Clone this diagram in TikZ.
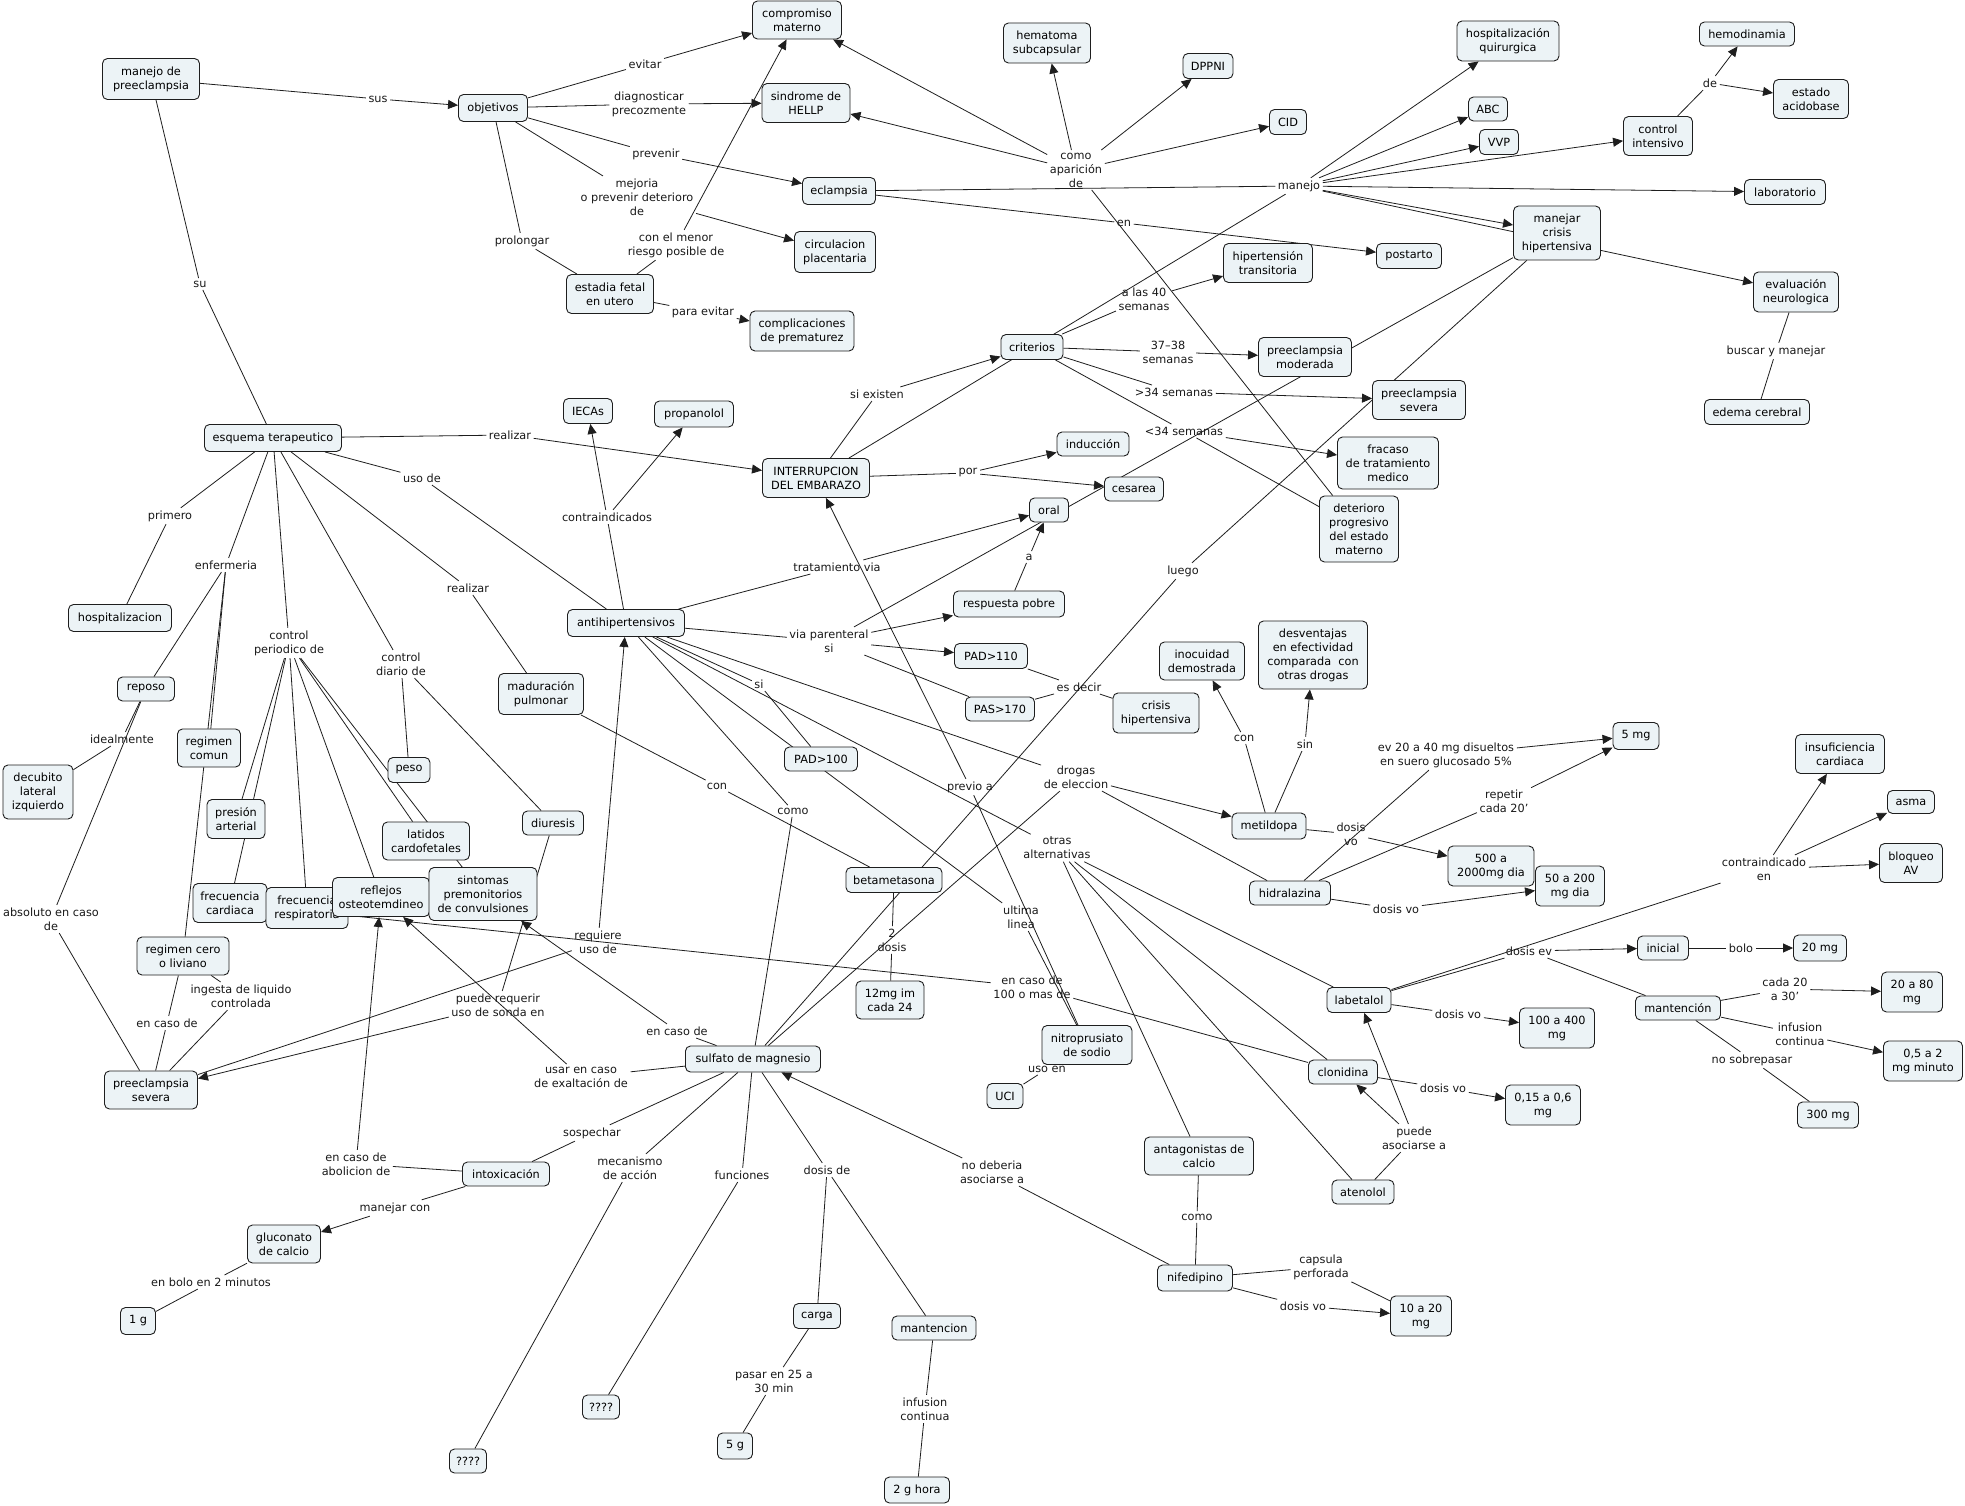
\documentclass[tikz,border=0pt]{standalone}
\usepackage{fontspec}
\setmainfont{DejaVu Sans}
\usetikzlibrary{arrows.meta}
\definecolor{boxfill}{RGB}{236,243,246}
\definecolor{ln}{RGB}{30,30,30}
\pgfdeclarelayer{bg}
\pgfsetlayers{bg,main}
\tikzset{
 c/.style 2 args={draw=ln, fill=boxfill, rounded corners=5pt, line width=0.9pt, minimum width=#1pt, minimum height=#2pt, inner xsep=3pt, inner ysep=2pt, align=center, font=\fontsize{11.3}{14}\selectfont},
 lk/.style={inner sep=2.5pt, align=center, font=\fontsize{11.3}{14}\selectfont, text=black!90},
 e/.style={draw=ln, line width=0.8pt},
 ea/.style={e, -{Triangle[length=10pt,width=9pt]}},
}
\begin{document}
\begin{tikzpicture}[x=1pt,y=-1pt]
\useasboundingbox (0,0) rectangle (1965,1506);
% ---------- concepts ----------
\node[c={97}{41}] (mp) at (151,79) {manejo de\\preeclampsia};
\node[c={69}{27}] (obj) at (493,108) {objetivos};
\node[c={89}{38}] (cm) at (797,20) {compromiso\\materno};
\node[c={88}{39}] (hellp) at (806,103) {sindrome de\\HELLP};
\node[c={73}{27}] (ecl) at (839,191) {eclampsia};
\node[c={81}{41}] (circ) at (835,252) {circulacion\\placentaria};
\node[c={87}{39}] (est) at (610,294) {estadia fetal\\en utero};
\node[c={104}{40}] (comp) at (802,331) {complicaciones\\de prematurez};
\node[c={49}{25}] (iecas) at (588,411) {IECAs};
\node[c={79}{26}] (prop) at (694,414) {propanolol};
\node[c={107}{39}] (int) at (816,478) {INTERRUPCION\\DEL EMBARAZO};
\node[c={87}{40}] (hem) at (1047,43) {hematoma\\subcapsular};
\node[c={50}{25}] (dppni) at (1208,66) {DPPNI};
\node[c={37}{25}] (cid) at (1288,122) {CID};
\node[c={89}{39}] (hiper) at (1268,263) {hipertensión\\transitoria};
\node[c={65}{25}] (post) at (1409,256) {postarto};
\node[c={62}{25}] (crit) at (1032,347) {criterios};
\node[c={93}{39}] (pmod) at (1305,357) {preeclampsia\\moderada};
\node[c={93}{39}] (psevR) at (1419,400) {preeclampsia\\severa};
\node[c={72}{24}] (ind) at (1093,444) {inducción};
\node[c={59}{24}] (ces) at (1134,489) {cesarea};
\node[c={101}{52}] (frac) at (1388,463) {fracaso\\de tratamiento\\medico};
\node[c={79}{66}] (det) at (1359,529) {deterioro\\progresivo\\del estado\\materno};
\node[c={39}{24}] (oral) at (1049,510) {oral};
\node[c={102}{40}] (hq) at (1508,41) {hospitalización\\quirurgica};
\node[c={39}{24}] (abc) at (1488,109) {ABC};
\node[c={39}{25}] (vvp) at (1499,142) {VVP};
\node[c={69}{39}] (ci) at (1658,136) {control\\intensivo};
\node[c={95}{24}] (hemo) at (1747,34) {hemodinamia};
\node[c={75}{39}] (acido) at (1811,99) {estado\\acidobase};
\node[c={81}{25}] (lab) at (1785,192) {laboratorio};
\node[c={87}{54}] (mch) at (1557,233) {manejar\\crisis\\hipertensiva};
\node[c={85}{40}] (evn) at (1796,292) {evaluación\\neurologica};
\node[c={105}{25}] (edema) at (1757,412) {edema cerebral};
\node[c={137}{27}] (esq) at (273,438) {esquema terapeutico};
\node[c={103}{27}] (hosp) at (120,618) {hospitalizacion};
\node[c={57}{24}] (rep) at (146,689) {reposo};
\node[c={63}{38}] (rcom) at (209,748) {regimen\\comun};
\node[c={70}{54}] (dec) at (38,792) {decubito\\lateral\\izquierdo};
\node[c={42}{25}] (peso) at (409,770) {peso};
\node[c={58}{39}] (pres) at (236,819) {presión\\arterial};
\node[c={87}{38}] (lat) at (426,841) {latidos\\cardofetales};
\node[c={74}{39}] (fc) at (230,903) {frecuencia\\cardiaca};
\node[c={82}{41}] (fr) at (307,908) {frecuencia\\respiratoria};
\node[c={97}{39}] (refl) at (381,897) {reflejos\\osteotemdineo};
\node[c={108}{53}] (sint) at (483,894) {sintomas\\premonitorios\\de convulsiones};
\node[c={92}{38}] (rcero) at (183,956) {regimen cero\\o liviano};
\node[c={61}{24}] (diu) at (553,823) {diuresis};
\node[c={85}{41}] (mad) at (541,694) {maduración\\pulmonar};
\node[c={93}{38}] (psevL) at (151,1090) {preeclampsia\\severa};
\node[c={87}{24}] (intox) at (506,1174) {intoxicación};
\node[c={73}{38}] (gluc) at (284,1244) {gluconato\\de calcio};
\node[c={35}{27}] (oneg) at (138,1321) {1 g};
\node[c={37}{24}] (qa) at (468,1461) {????};
\node[c={135}{26}] (sulf) at (753,1059) {sulfato de magnesio};
\node[c={37}{24}] (qb) at (601,1407) {????};
\node[c={47}{25}] (carga) at (817,1316) {carga};
\node[c={84}{24}] (mant) at (934,1328) {mantencion};
\node[c={35}{26}] (cinco) at (735,1446) {5 g};
\node[c={65}{26}] (dosg) at (917,1490) {2 g hora};
\node[c={117}{27}] (anti) at (626,623) {antihipertensivos};
\node[c={111}{26}] (resp) at (1009,604) {respuesta pobre};
\node[c={73}{25}] (padA) at (991,656) {PAD>110};
\node[c={69}{24}] (pas) at (1000,709) {PAS>170};
\node[c={73}{24}] (padB) at (821,759) {PAD>100};
\node[c={96}{25}] (beta) at (894,880) {betametasona};
\node[c={68}{38}] (doce) at (890,1000) {12mg im\\cada 24};
\node[c={85}{38}] (inoc) at (1202,661) {inocuidad\\demostrada};
\node[c={109}{68}] (desv) at (1313,655) {desventajas\\en efectividad\\comparada\ \ con\\otras drogas};
\node[c={86}{40}] (crisis) at (1156,713) {crisis\\hipertensiva};
\node[c={74}{26}] (metil) at (1269,826) {metildopa};
\node[c={86}{40}] (quin) at (1491,866) {500 a\\2000mg dia};
\node[c={81}{24}] (hidra) at (1290,893) {hidralazina};
\node[c={64}{25}] (labet) at (1359,1000) {labetalol};
\node[c={46}{27}] (cinmg) at (1636,736) {5 mg};
\node[c={89}{39}] (insuf) at (1840,754) {insuficiencia\\cardiaca};
\node[c={47}{23}] (asma) at (1911,802) {asma};
\node[c={63}{39}] (bloq) at (1911,863) {bloqueo\\AV};
\node[c={69}{40}] (cinc) at (1570,886) {50 a 200\\mg dia};
\node[c={51}{24}] (ini) at (1663,948) {inicial};
\node[c={53}{26}] (veinte) at (1820,948) {20 mg};
\node[c={61}{40}] (veinteB) at (1912,992) {20 a 80\\mg};
\node[c={85}{24}] (mantc) at (1678,1008) {mantención};
\node[c={75}{40}] (cien) at (1557,1028) {100 a 400\\mg};
\node[c={79}{40}] (ceroA) at (1923,1061) {0,5 a 2\\mg minuto};
\node[c={61}{26}] (tres) at (1828,1115) {300 mg};
\node[c={75}{40}] (ceroB) at (1543,1105) {0,15 a 0,6\\mg};
\node[c={90}{39}] (nitro) at (1087,1045) {nitroprusiato\\de sodio};
\node[c={36}{25}] (uci) at (1005,1096) {UCI};
\node[c={69}{24}] (clon) at (1343,1072) {clonidina};
\node[c={109}{38}] (antag) at (1199,1156) {antagonistas de\\calcio};
\node[c={62}{24}] (aten) at (1363,1192) {atenolol};
\node[c={75}{26}] (nife) at (1195,1278) {nifedipino};
\node[c={61}{40}] (diez) at (1421,1316) {10 a 20\\mg};
% ---------- linking phrases ----------
\node[lk] (Lsus) at (378,99) {sus};
\node[lk] (Lsu) at (200,284) {su};
\node[lk] (Levitar) at (645,64) {evitar};
\node[lk] (Ldiag) at (649,104) {diagnosticar\\precozmente};
\node[lk] (Lprev) at (656,154) {prevenir};
\node[lk] (Lmej) at (637,197) {mejoria\\o prevenir deterioro\\de};
\node[lk] (Lprol) at (522,241) {prolongar};
\node[lk] (Lmenor) at (676,245) {con el menor\\riesgo posible de};
\node[lk] (Lpara) at (703,312) {para evitar};
\node[lk] (Lcomo) at (1076,170) {como\\aparición\\de};
\node[lk] (Lmanejo) at (1299,186) {manejo};
\node[lk] (Len) at (1124,223) {en};
\node[lk] (Lcuarenta) at (1144,299) {a las 40\\semanas};
\node[lk] (Ltreinta) at (1168,352) {37–38\\semanas};
\node[lk] (Lgt) at (1174,392) {>34 semanas};
\node[lk] (Llt) at (1184,431) {<34 semanas};
\node[lk] (Lde) at (1710,83) {de};
\node[lk] (Lbuscar) at (1776,351) {buscar y manejar};
\node[lk] (Lsiex) at (877,394) {si existen};
\node[lk] (Lpor) at (968,473) {por};
\node[lk] (LrealA) at (510,435) {realizar};
\node[lk] (Luso) at (422,478) {uso de};
\node[lk] (Lcontra) at (607,517) {contraindicados};
\node[lk] (Lprim) at (170,516) {primero};
\node[lk] (Lenf) at (226,565) {enfermeria};
\node[lk] (LrealB) at (468,588) {realizar};
\node[lk] (Lcper) at (289,643) {control\\periodico de};
\node[lk] (Lcdia) at (401,664) {control\\diario de};
\node[lk] (Lideal) at (122,739) {idealmente};
\node[lk] (Labs) at (51,919) {absoluto en caso\\de};
\node[lk] (Lingesta) at (241,996) {ingesta de liquido\\controlada};
\node[lk] (LencasoA) at (167,1023) {en caso de};
\node[lk] (Ltrat) at (837,567) {tratamiento via};
\node[lk] (Lviap) at (829,641) {via parenteral\\si};
\node[lk] (La) at (1029,557) {a};
\node[lk] (Lluego) at (1183,571) {luego};
\node[lk] (Lesdecir) at (1079,687) {es decir};
\node[lk] (Lsi) at (759,684) {si};
\node[lk] (LconA) at (717,786) {con};
\node[lk] (LcomoB) at (793,811) {como};
\node[lk] (Lprevio) at (970,787) {previo a};
\node[lk] (Ldrogas) at (1076,777) {drogas\\de eleccion};
\node[lk] (Lotras) at (1057,848) {otras\\alternativas};
\node[lk] (LconB) at (1244,738) {con};
\node[lk] (Lsin) at (1305,744) {sin};
\node[lk] (Lev) at (1446,755) {ev 20 a 40 mg disueltos\\en suero glucosado 5\%};
\node[lk] (Lrepetir) at (1504,801) {repetir\\cada 20'};
\node[lk] (LdvoA) at (1351,834) {dosis\\vo};
\node[lk] (LdvoB) at (1396,909) {dosis vo};
\node[lk] (Lultima) at (1021,917) {ultima\\linea};
\node[lk] (Ldosdosis) at (892,940) {2\\dosis};
\node[lk] (Lreq) at (598,942) {requiere\\uso de};
\node[lk] (Lpuede) at (498,1005) {puede requerir\\uso de sonda en};
\node[lk] (Lcien) at (1032,987) {en caso de\\100 o mas de};
\node[lk] (Lcontraind) at (1764,869) {contraindicado\\en};
\node[lk] (Ldev) at (1529,951) {dosis ev};
\node[lk] (Lbolo) at (1741,948) {bolo};
\node[lk] (Lcada) at (1785,989) {cada 20\\a 30'};
\node[lk] (LdvoC) at (1458,1014) {dosis vo};
\node[lk] (LinfB) at (1800,1034) {infusion\\continua};
\node[lk] (Lnosob) at (1752,1060) {no sobrepasar};
\node[lk] (LdvoD) at (1443,1088) {dosis vo};
\node[lk] (Lusoen) at (1047,1069) {uso en};
\node[lk] (Lpuedeas) at (1414,1138) {puede\\asociarse a};
\node[lk] (LcomoC) at (1197,1217) {como};
\node[lk] (Lcaps) at (1321,1267) {capsula\\perforada};
\node[lk] (LdvoE) at (1303,1306) {dosis vo};
\node[lk] (LencasoB) at (677,1031) {en caso de};
\node[lk] (Lusar) at (581,1077) {usar en caso\\de exaltación de};
\node[lk] (Lsosp) at (592,1133) {sospechar};
\node[lk] (Lmec) at (630,1168) {mecanismo\\de acción};
\node[lk] (Lfunc) at (742,1175) {funciones};
\node[lk] (Ldosisde) at (827,1170) {dosis de};
\node[lk] (Lnodeb) at (992,1172) {no deberia\\asociarse a};
\node[lk] (Labol) at (356,1164) {en caso de\\abolicion de};
\node[lk] (Lmanejarcon) at (395,1208) {manejar con};
\node[lk] (Lbolodos) at (211,1282) {en bolo en 2 minutos};
\node[lk] (Lpasar) at (774,1381) {pasar en 25 a\\30 min};
\node[lk] (LinfA) at (925,1409) {infusion\\continua};
% ---------- connectors ----------
\begin{pgfonlayer}{bg}
\fill[white] (0,0) rectangle (1965,1506);
\draw[e] (mp) -- (Lsus); \draw[ea] (Lsus) -- (obj);
\draw[e] (mp) -- (Lsu); \draw[e] (Lsu) -- (esq);
\draw[e] (obj) -- (Levitar); \draw[ea] (Levitar) -- (cm);
\draw[e] (obj) -- (Ldiag); \draw[ea] (Ldiag) -- (hellp);
\draw[e] (obj) -- (Lprev); \draw[ea] (Lprev) -- (ecl);
\draw[e] (obj) -- (Lmej); \draw[ea] (Lmej) -- (circ);
\draw[e] (obj) -- (Lprol); \draw[e] (Lprol) -- (est);
\draw[e] (est) -- (Lmenor); \draw[ea] (Lmenor) -- (cm);
\draw[e] (est) -- (Lpara); \draw[ea] (Lpara) -- (comp);
\draw[e] (det) -- (Lcomo);
\foreach \t in {cm,hellp,hem,dppni,cid} \draw[ea] (Lcomo) -- (\t);
\draw[e] (ecl) -- (Lmanejo);
\foreach \t in {hq,abc,vvp,ci,lab,mch,evn} \draw[ea] (Lmanejo) -- (\t);
\draw[e] (Lmanejo) -- (int);
\draw[e] (ecl) -- (Len); \draw[ea] (Len) -- (post);
\draw[e] (ci) -- (Lde); \draw[ea] (Lde) -- (hemo); \draw[ea] (Lde) -- (acido);
\draw[e] (evn) -- (Lbuscar); \draw[e] (Lbuscar) -- (edema);
\draw[e] (int) -- (Lsiex); \draw[ea] (Lsiex) -- (crit);
\draw[e] (int) -- (Lpor); \draw[ea] (Lpor) -- (ind); \draw[ea] (Lpor) -- (ces);
\draw[e] (esq) -- (LrealA); \draw[ea] (LrealA) -- (int);
\draw[e] (esq) -- (Luso); \draw[e] (Luso) -- (anti);
\draw[e] (anti) -- (Lcontra); \draw[ea] (Lcontra) -- (iecas); \draw[ea] (Lcontra) -- (prop);
\draw[e] (crit) -- (Lcuarenta); \draw[ea] (Lcuarenta) -- (hiper);
\draw[e] (crit) -- (Ltreinta); \draw[ea] (Ltreinta) -- (pmod);
\draw[e] (crit) -- (Lgt); \draw[ea] (Lgt) -- (psevR);
\draw[e] (crit) -- (Llt); \draw[ea] (Llt) -- (frac); \draw[e] (Llt) -- (det);
\draw[e] (esq) -- (Lprim); \draw[e] (Lprim) -- (hosp);
\draw[e] (esq) -- (Lenf);
\foreach \t in {rep,rcom,rcero} \draw[e] (Lenf) -- (\t);
\draw[e] (esq) -- (Lcper);
\foreach \t in {pres,fc,fr,refl,lat,sint} \draw[e] (Lcper) -- (\t);
\draw[e] (esq) -- (Lcdia); \draw[e] (Lcdia) -- (peso); \draw[e] (Lcdia) -- (diu);
\draw[e] (esq) -- (LrealB); \draw[e] (LrealB) -- (mad);
\draw[e] (rep) -- (Lideal); \draw[e] (Lideal) -- (dec);
\draw[e] (rep) -- (Labs); \draw[e] (Labs) -- (psevL);
\draw[e] (rcero) -- (LencasoA); \draw[e] (LencasoA) -- (psevL);
\draw[e] (rcero) -- (Lingesta); \draw[e] (Lingesta) -- (psevL);
\draw[e] (anti) -- (Ltrat); \draw[ea] (Ltrat) -- (oral);
\draw[e] (anti) -- (Lviap); \draw[ea] (Lviap) -- (resp); \draw[ea] (Lviap) -- (padA);
\draw[e] (Lviap) -- (pas); \draw[e] (Lviap) -- (mch);
\draw[e] (resp) -- (La); \draw[ea] (La) -- (oral);
\draw[e] (mch) -- (Lluego); \draw[e] (Lluego) -- (sulf);
\draw[e] (padA) -- (Lesdecir); \draw[e] (pas) -- (Lesdecir); \draw[e] (Lesdecir) -- (crisis);
\draw[e] (anti) -- (Lsi); \draw[e] (Lsi) -- (padB);
\draw[e] (mad) -- (LconA); \draw[e] (LconA) -- (beta);
\draw[e] (anti) -- (LcomoB); \draw[e] (LcomoB) -- (sulf);
\draw[e] (nitro) -- (Lprevio); \draw[ea] (Lprevio) -- (int);
\draw[e] (anti) -- (Ldrogas); \draw[ea] (Ldrogas) -- (metil);
\draw[e] (Ldrogas) -- (hidra); \draw[e] (Ldrogas) -- (sulf);
\draw[e] (anti) -- (Lotras);
\foreach \t in {antag,aten,clon,labet} \draw[e] (Lotras) -- (\t);
\draw[e] (metil) -- (LconB); \draw[ea] (LconB) -- (inoc);
\draw[e] (metil) -- (Lsin); \draw[ea] (Lsin) -- (desv);
\draw[e] (hidra) -- (Lev); \draw[ea] (Lev) -- (cinmg);
\draw[e] (hidra) -- (Lrepetir); \draw[ea] (Lrepetir) -- (cinmg);
\draw[e] (metil) -- (LdvoA); \draw[ea] (LdvoA) -- (quin);
\draw[e] (hidra) -- (LdvoB); \draw[ea] (LdvoB) -- (cinc);
\draw[e] (anti) -- (Lultima); \draw[e] (Lultima) -- (nitro);
\draw[e] (beta) -- (Ldosdosis); \draw[e] (Ldosdosis) -- (doce);
\draw[e] (psevL) -- (Lreq); \draw[ea] (Lreq) -- (anti);
\draw[e] (diu) -- (Lpuede); \draw[ea] (Lpuede) -- (psevL);
\draw[e] (fc) -- (Lcien); \draw[e] (Lcien) -- (clon);
\draw[e] (labet) -- (Lcontraind);
\foreach \t in {insuf,asma,bloq} \draw[ea] (Lcontraind) -- (\t);
\draw[e] (labet) -- (Ldev); \draw[ea] (Ldev) -- (ini); \draw[e] (Ldev) -- (mantc);
\draw[e] (ini) -- (Lbolo); \draw[ea] (Lbolo) -- (veinte);
\draw[e] (mantc) -- (Lcada); \draw[ea] (Lcada) -- (veinteB);
\draw[e] (mantc) -- (LinfB); \draw[ea] (LinfB) -- (ceroA);
\draw[e] (mantc) -- (Lnosob); \draw[e] (Lnosob) -- (tres);
\draw[e] (labet) -- (LdvoC); \draw[ea] (LdvoC) -- (cien);
\draw[e] (clon) -- (LdvoD); \draw[ea] (LdvoD) -- (ceroB);
\draw[e] (nitro) -- (Lusoen); \draw[e] (Lusoen) -- (uci);
\draw[e] (aten) -- (Lpuedeas); \draw[ea] (Lpuedeas) -- (labet); \draw[ea] (Lpuedeas) -- (clon);
\draw[e] (antag) -- (LcomoC); \draw[e] (LcomoC) -- (nife);
\draw[e] (nife) -- (Lcaps); \draw[e] (Lcaps) -- (diez);
\draw[e] (nife) -- (LdvoE); \draw[ea] (LdvoE) -- (diez);
\draw[e] (sulf) -- (LencasoB); \draw[ea] (LencasoB) -- (sint);
\draw[e] (sulf) -- (Lusar); \draw[ea] (Lusar) -- (refl);
\draw[e] (sulf) -- (Lsosp); \draw[e] (Lsosp) -- (intox);
\draw[e] (sulf) -- (Lmec); \draw[e] (Lmec) -- (qa);
\draw[e] (sulf) -- (Lfunc); \draw[e] (Lfunc) -- (qb);
\draw[e] (sulf) -- (Ldosisde); \draw[e] (Ldosisde) -- (carga); \draw[e] (Ldosisde) -- (mant);
\draw[e] (nife) -- (Lnodeb); \draw[ea] (Lnodeb) -- (sulf);
\draw[e] (intox) -- (Labol); \draw[ea] (Labol) -- (refl);
\draw[e] (intox) -- (Lmanejarcon); \draw[ea] (Lmanejarcon) -- (gluc);
\draw[e] (gluc) -- (Lbolodos); \draw[e] (Lbolodos) -- (oneg);
\draw[e] (carga) -- (Lpasar); \draw[e] (Lpasar) -- (cinco);
\draw[e] (mant) -- (LinfA); \draw[e] (LinfA) -- (dosg);
\end{pgfonlayer}
\end{tikzpicture}
\end{document}
